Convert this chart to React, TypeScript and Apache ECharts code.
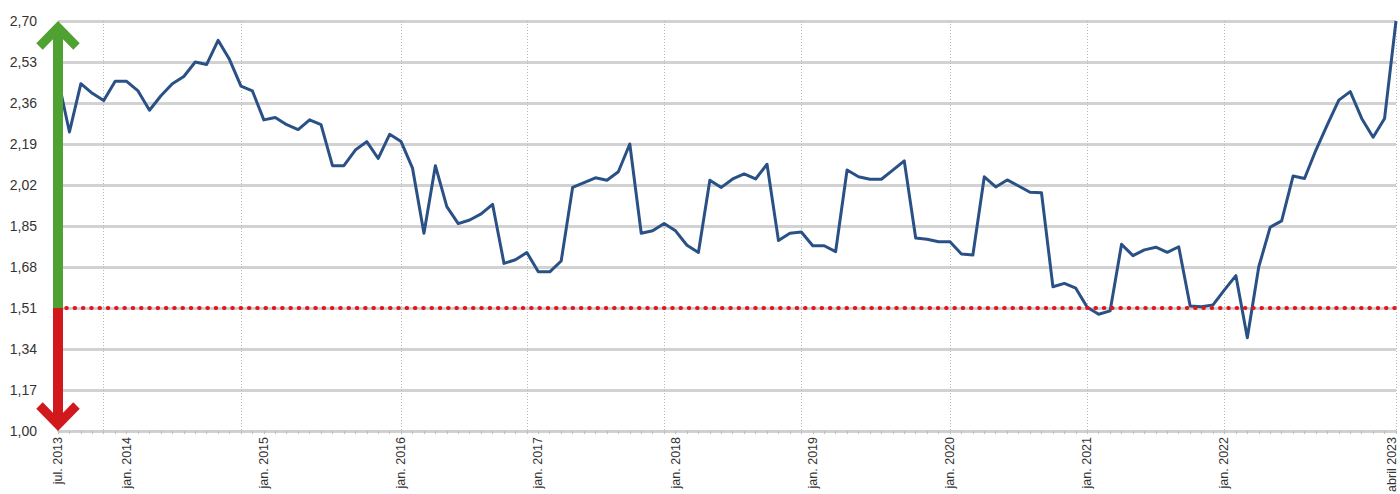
import React, { useEffect, useRef } from "react";
import * as echarts from "echarts";

// Monthly values, jul. 2013 -> abril 2023
const values: number[] = [
  2.46, 2.24, 2.44, 2.40, 2.37, 2.45, 2.45, 2.41, 2.33, 2.39, 2.44, 2.47,
  2.53, 2.52, 2.62, 2.54, 2.43, 2.41, 2.29, 2.30, 2.27, 2.25, 2.29, 2.27,
  2.10, 2.10, 2.165, 2.20, 2.13, 2.23, 2.20, 2.09, 1.82, 2.10, 1.93, 1.86,
  1.875, 1.90, 1.94, 1.695, 1.71, 1.74, 1.66, 1.66, 1.705, 2.01, 2.03, 2.05,
  2.04, 2.075, 2.19, 1.82, 1.83, 1.86, 1.83, 1.77, 1.74, 2.04, 2.01, 2.045,
  2.066, 2.045, 2.106, 1.79, 1.82, 1.825, 1.768, 1.768, 1.744, 2.082, 2.054, 2.044,
  2.044, 2.082, 2.12, 1.80, 1.795, 1.785, 1.785, 1.734, 1.73, 2.054, 2.012, 2.041,
  2.016, 1.99, 1.988, 1.598, 1.612, 1.592, 1.513, 1.484, 1.498, 1.774, 1.727, 1.751,
  1.762, 1.741, 1.764, 1.518, 1.515, 1.523, 1.585, 1.644, 1.387, 1.681, 1.845, 1.871,
  2.057, 2.047, 2.165, 2.27, 2.372, 2.407, 2.296, 2.218, 2.296, 2.70,
];

const START_YEAR = 2013;
const START_MONTH = 7;
const months: string[] = values.map((_, i) => {
  const m = START_MONTH - 1 + i;
  const y = START_YEAR + Math.floor(m / 12);
  const mm = (m % 12) + 1;
  return `${y}-${String(mm).padStart(2, "0")}`;
});

const xTickLabels: Record<string, string> = {
  "2013-07": "jul. 2013",
  "2014-01": "jan. 2014",
  "2015-01": "jan. 2015",
  "2016-01": "jan. 2016",
  "2017-01": "jan. 2017",
  "2018-01": "jan. 2018",
  "2019-01": "jan. 2019",
  "2020-01": "jan. 2020",
  "2021-01": "jan. 2021",
  "2022-01": "jan. 2022",
  "2023-04": "abril 2023",
};

const verticalGuides: string[] = [
  "2013-11", "2014-11", "2016-01", "2016-12", "2017-12",
  "2018-12", "2020-01", "2021-01", "2022-01", "2023-04",
];

const yTicks: number[] = [1.0, 1.17, 1.34, 1.51, 1.68, 1.85, 2.02, 2.19, 2.36, 2.53, 2.7];
const Y_MIN = 1.0;
const Y_MAX = 2.7;
const threshold = 1.51;

const FONT = "'Liberation Sans', Arial, sans-serif";

export default function App() {
  const ref = useRef<HTMLDivElement>(null);

  useEffect(() => {
    if (!ref.current) return;
    const chart = echarts.init(ref.current, null, { renderer: "svg" });
    const lastMonth = months[months.length - 1];
    chart.setOption({
      animation: false,
      grid: {
        left: 58,
        right: 4,
        top: 21,
        bottom: 63,
        containLabel: false,
        outerBoundsMode: "none",
      },
      xAxis: {
        type: "category",
        data: months,
        boundaryGap: false,
        axisLine: { show: true, lineStyle: { color: "#cfcfcf", width: 2 } },
        axisTick: { show: true, interval: 0, length: 3, lineStyle: { color: "#bdbdbd", width: 1 } },
        axisLabel: {
          interval: (_i: number, v: string) => v in xTickLabels,
          formatter: (v: string) =>
            v === lastMonth ? `{last|${xTickLabels[v]}}` : xTickLabels[v] ?? "",
          rotate: 90,
          margin: 6,
          fontSize: 12.5,
          color: "#333",
          fontFamily: FONT,
          rich: {
            last: {
              fontSize: 12.5,
              color: "#333",
              fontFamily: FONT,
              padding: [0, 0, 9, 0],
            },
          },
        },
        splitLine: {
          show: true,
          interval: (_i: number, v: string) => verticalGuides.includes(v),
          lineStyle: { color: "#b8b8b8", width: 1, type: [1, 2] },
        },
      },
      yAxis: {
        type: "value",
        min: Y_MIN,
        max: Y_MAX,
        axisLine: { show: false },
        axisTick: { show: false, customValues: yTicks },
        axisLabel: {
          customValues: yTicks,
          formatter: (v: number) => v.toFixed(2).replace(".", ","),
          fontSize: 14,
          color: "#333",
          margin: 21,
          fontFamily: FONT,
        },
        splitLine: { show: true, lineStyle: { color: "#d2d2d2", width: 3 } },
      },
      series: [
        {
          type: "line",
          data: values,
          symbol: "none",
          showSymbol: false,
          lineStyle: { color: "#2a5186", width: 3, join: "round" },
          z: 3,
          markLine: {
            silent: true,
            symbol: ["none", "none"],
            label: { show: false },
            emphasis: { disabled: true },
            lineStyle: { color: "#e3141b", width: 4, type: [0.5, 7.8], cap: "round" },
            data: [{ yAxis: threshold }],
          },
        },
      ],
    });

    const [x0, yTop] = chart.convertToPixel({ gridIndex: 0 }, [0, Y_MAX]) as number[];
    const [, yMid] = chart.convertToPixel({ gridIndex: 0 }, [0, threshold]) as number[];
    const [, yBot] = chart.convertToPixel({ gridIndex: 0 }, [0, Y_MIN]) as number[];
    const green = "#4fa232";
    const red = "#d0181d";
    chart.setOption({
      graphic: [
        {
          type: "rect",
          z: 100,
          shape: { x: x0 - 5, y: yTop + 8, width: 10, height: yMid - yTop - 8 },
          style: { fill: green },
        },
        {
          type: "polyline",
          z: 100,
          shape: { points: [[x0 - 18.5, yTop + 25.5], [x0, yTop + 6.5], [x0 + 18.5, yTop + 25.5]] },
          style: { stroke: green, lineWidth: 9, lineJoin: "miter", lineCap: "butt", fill: null },
        },
        {
          type: "rect",
          z: 100,
          shape: { x: x0 - 5, y: yMid, width: 10, height: yBot - yMid - 8 },
          style: { fill: red },
        },
        {
          type: "polyline",
          z: 100,
          shape: { points: [[x0 - 18.5, yBot - 25.5], [x0, yBot - 6.5], [x0 + 18.5, yBot - 25.5]] },
          style: { stroke: red, lineWidth: 9, lineJoin: "miter", lineCap: "butt", fill: null },
        },
      ],
    });

    return () => chart.dispose();
  }, []);

  return (
    <div
      ref={ref}
      style={{ position: "fixed", left: 0, top: 0, width: 1400, height: 494, background: "#fff" }}
    />
  );
}
